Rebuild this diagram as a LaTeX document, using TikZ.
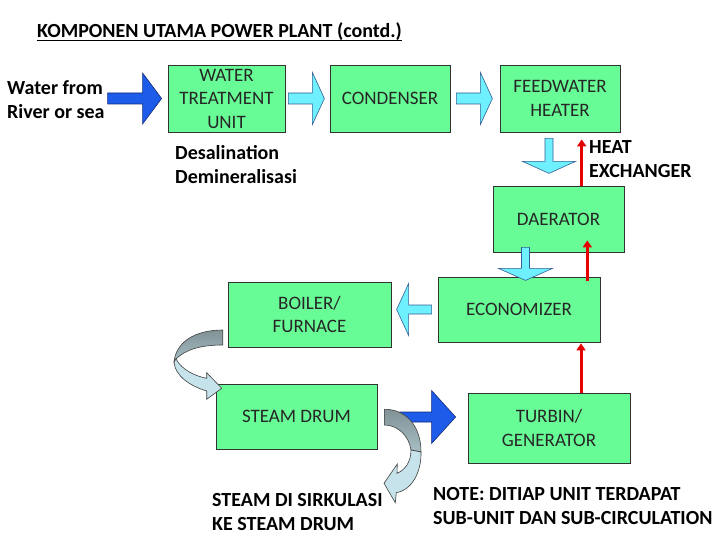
\documentclass[tikz,border=0pt]{standalone}
\usepackage{fontspec}
\setmainfont{Carlito}
\usepackage{tikz}
\usetikzlibrary{positioning, calc, arrows.meta}

\newcommand{\thickul}[1]{\setbox0=\hbox{#1}\rlap{\copy0}\rule[-3pt]{\wd0}{1.4pt}}

\definecolor{boxgreen}{RGB}{104,252,150}
\definecolor{arrcyan}{RGB}{110,240,255}
\definecolor{arredge}{RGB}{50,95,150}
\definecolor{arrblue}{RGB}{28,92,232}
\definecolor{navy}{RGB}{20,40,120}
\definecolor{curvegrey}{RGB}{128,146,150}
\definecolor{curvelight}{RGB}{198,226,234}

\tikzset{
  unitbox/.style={draw=black!80, fill=boxgreen, line width=0.8pt, inner sep=0pt,
    align=center, text=black!85, font=\fontsize{19}{23.5}\selectfont},
  txt/.style={align=left, anchor=west, inner sep=0pt,
    font=\fontsize{20}{24}\selectfont\bfseries},
  cyanarr/.style={fill=arrcyan, draw=arredge, line width=0.6pt},
  bluearr/.style={fill=arrblue, draw=navy, line width=0.6pt},
  redarr/.style={draw=red!90!black, line width=3pt, -{Triangle[length=7pt,width=9pt]}},
  curve/.style={draw=black!75, line width=0.6pt},
  pics/blockarrow/.style n args={4}{code={
    \path[pic actions] (0,-#2) -- (#1-#4,-#2) -- (#1-#4,-#3) -- (#1,0)
      -- (#1-#4,#3) -- (#1-#4,#2) -- (0,#2) -- cycle;}}
}

\begin{document}
\begin{tikzpicture}[x=1pt, y=-1pt]
    \useasboundingbox (0,0) rectangle (720,540);

    % Title
    \node[anchor=base west, inner sep=0pt, font=\fontsize{20}{24}\selectfont\bfseries]
      (title) at (37,38) {\thickul{KOMPONEN UTAMA POWER PLANT (contd.)}};

    % Drawing the units
    \node[unitbox, minimum width=117pt, minimum height=67pt] (wtu) at (226.5,98.5) {WATER\\TREATMENT\\UNIT};
    \node[unitbox, minimum width=120pt, minimum height=67pt] (cond) at (390,98.5) {CONDENSER};
    \node[unitbox, minimum width=120pt, minimum height=67pt] (fwh) at (560,98.5) {FEEDWATER\\HEATER};
    \node[unitbox, minimum width=131pt, minimum height=66pt] (dae) at (558.5,219) {DAERATOR};
    \node[unitbox, minimum width=162pt, minimum height=65pt] (econ) at (519,309.5) {ECONOMIZER};
    \node[unitbox, minimum width=163pt, minimum height=65pt] (boiler) at (309.5,314.5) {BOILER/\\FURNACE};
    \node[unitbox, minimum width=161pt, minimum height=65pt] (drum) at (296.5,416.5) {STEAM DRUM};
    \node[unitbox, minimum width=162pt, minimum height=70pt] (turbin) at (549,428) {TURBIN/\\GENERATOR};

    % Labels
    \node[txt] (water) at (7,99.5) {Water from\\River or sea};
    \node[txt] (desal) at (175,165) {Desalination\\Demineralisasi};
    \node[txt] (heat) at (589,159) {HEAT\\EXCHANGER};
    \node[txt] (sirk) at (212,512.5) {STEAM DI SIRKULASI\\KE STEAM DRUM};
    \node[txt] (note) at (433,506) {NOTE: DITIAP UNIT TERDAPAT\\SUB-UNIT DAN SUB-CIRCULATION};

    % Block arrows between the units
    \pic[bluearr] at ($(wtu.west)+(-60,0)$) {blockarrow={54}{5.5}{25.5}{19}};
    \pic[cyanarr] at ($(wtu.east)+(3,0)$) {blockarrow={36}{5.5}{26}{12}};
    \pic[cyanarr] at ($(cond.east)+(6,0)$) {blockarrow={36}{5.5}{26}{12}};
    \pic[cyanarr, rotate=-90] at ($(fwh.south)+(-11,6)$) {blockarrow={35}{4}{26.5}{12}};
    \pic[cyanarr, rotate=-90] at ($(dae.south)+(-33,-5)$) {blockarrow={33}{4}{27}{12}};
    \pic[cyanarr, rotate=180] at ($(econ.west)+(-6,0)$) {blockarrow={35}{4.5}{26}{12}};
    \pic[bluearr] at ($(turbin.west)+(-68,-11)$) {blockarrow={56}{5}{26.5}{24}};

    % Heat exchanger arrows
    \draw[redarr] ([xshift=23.2pt]dae.north) -- ([xshift=21.7pt,yshift=-7pt]fwh.south);
    \draw[redarr] ([xshift=68.3pt,yshift=-4.7pt]econ.north) -- ([xshift=28.8pt,yshift=12pt]dae.south);
    \draw[redarr] ([xshift=32pt]turbin.north) -- ([xshift=62pt,yshift=-1pt]econ.south);

    % Boiler to steam drum
    \draw[curve, top color=curvegrey, bottom color=curvegrey!45!curvelight]
      (222.7,330) .. controls (195,330) and (176,342) .. (174,362)
      -- (176,359) .. controls (185,350) and (200,345) .. (222.7,345) -- cycle;
    \draw[curve, fill=curvelight]
      (176,359) .. controls (182,370) and (195,376) .. (206.7,378.3)
      -- (206.7,372.7) -- (221.7,388.3) -- (206.7,399.3) -- (206.7,391)
      .. controls (190,386) and (175,376) .. (174,362) -- cycle;

    % Steam circulation back to drum
    \draw[curve, top color=curvegrey, bottom color=curvegrey!45!curvelight]
      (384.3,409.3) .. controls (405,409) and (421,425) .. (421,452)
      -- (411,450) .. controls (409,436) and (398,425) .. (384.3,425) -- cycle;
    \draw[curve, fill=curvelight]
      (421,452) .. controls (421.5,472) and (412,490) .. (396.3,492.7)
      -- (395.3,502.7) -- (384,483.3) -- (397.3,464) -- (397,473.3)
      .. controls (405,470) and (411,462) .. (411,450) -- cycle;
\end{tikzpicture}
\end{document}
